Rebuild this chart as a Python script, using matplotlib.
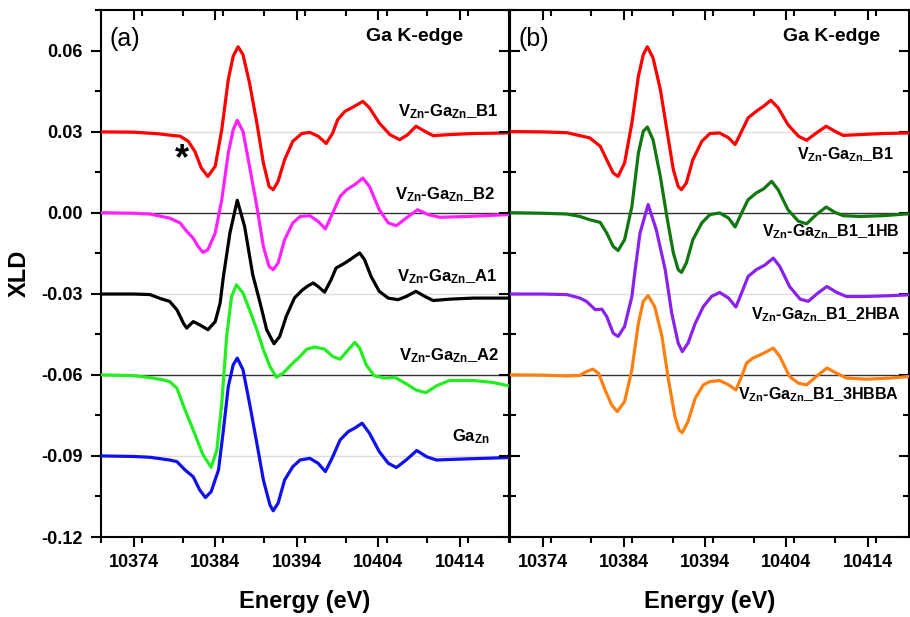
import matplotlib
matplotlib.use("Agg")
import matplotlib.pyplot as plt
from matplotlib.ticker import MultipleLocator, FormatStrFormatter

plt.rcParams['font.family'] = ['Liberation Sans', 'DejaVu Sans']
plt.rcParams['font.weight'] = 'bold'
plt.rcParams['axes.unicode_minus'] = False
plt.rcParams['mathtext.fontset'] = 'custom'
plt.rcParams['mathtext.rm'] = 'Liberation Sans:bold'
plt.rcParams['mathtext.bf'] = 'Liberation Sans:bold'
plt.rcParams['mathtext.default'] = 'bf'

# ---------------- data (panel a) ----------------
e_a_b1 = [10370, 10374, 10377, 10378.4, 10379.7, 10380.7, 10381.5, 10382.3, 10383.1, 10384.0,
          10384.8, 10385.6, 10386.2, 10386.8, 10387.4, 10388.2, 10389.1, 10389.9, 10390.6, 10391.1,
          10391.7, 10392.5, 10393.5, 10394.6, 10395.6, 10396.6, 10397.6, 10398.4, 10399.0, 10399.9,
          10400.9, 10402.1, 10402.9, 10404.1, 10405.4, 10406.6, 10407.6, 10408.6, 10409.7, 10410.7,
          10412.7, 10415.6, 10420]
v_a_b1 = [0.0299, 0.0298, 0.0292, 0.0287, 0.0283, 0.0264, 0.0227, 0.0165, 0.0134, 0.0172,
          0.0307, 0.0493, 0.0579, 0.0614, 0.0585, 0.0480, 0.0332, 0.0184, 0.0097, 0.0085,
          0.0116, 0.0196, 0.0264, 0.0293, 0.0297, 0.0283, 0.0256, 0.0295, 0.0344, 0.0375,
          0.0391, 0.0412, 0.0388, 0.0332, 0.0289, 0.0270, 0.0289, 0.0320, 0.0301, 0.0285,
          0.0289, 0.0293, 0.0295]

e_a_b2 = [10370, 10374, 10376.0, 10378.4, 10379.7, 10380.5, 10381.3, 10381.9, 10382.5, 10383.1,
          10384.0, 10384.8, 10385.6, 10386.2, 10386.7, 10387.4, 10388.2, 10389.1, 10389.9, 10390.6,
          10391.1, 10391.7, 10392.5, 10393.5, 10394.4, 10395.6, 10396.6, 10397.5, 10398.4, 10399.3,
          10400.1, 10401.1, 10402.1, 10402.9, 10404.1, 10405.2, 10406.2, 10407.4, 10408.8, 10410.1,
          10411.5, 10414.8, 10420]
v_a_b2 = [0.0000, -0.0002, -0.0005, -0.0020, -0.0038, -0.0069, -0.0094, -0.0125, -0.0147, -0.0137,
          -0.0075, 0.0048, 0.0221, 0.0307, 0.0342, 0.0301, 0.0172, 0.0023, -0.0125, -0.0199,
          -0.0211, -0.0186, -0.0100, -0.0038, -0.0014, -0.0011, -0.0032, -0.0060, -0.0001, 0.0060,
          0.0085, 0.0104, 0.0128, 0.0097, 0.0011, -0.0038, -0.0048, -0.0020, 0.0011, -0.0007,
          -0.0017, -0.0014, -0.0007]

e_a_a1 = [10370, 10374, 10376.0, 10377.3, 10378.4, 10379.3, 10380.1, 10380.5, 10381.3, 10382.1,
          10383.1, 10384.0, 10384.6, 10385.0, 10385.8, 10386.7, 10387.6, 10388.6, 10389.5, 10390.3,
          10391.2, 10391.9, 10392.7, 10393.7, 10394.6, 10395.3, 10396.0, 10396.6, 10397.4, 10398.2,
          10398.8, 10399.9, 10400.5, 10401.7, 10402.3, 10403.1, 10404.1, 10405.2, 10406.4, 10407.4,
          10408.6, 10409.7, 10410.7, 10412.7, 10415.6, 10420]
v_a_a1 = [-0.0301, -0.0301, -0.0303, -0.0318, -0.0328, -0.0359, -0.0409, -0.0427, -0.0403, -0.0415,
          -0.0433, -0.0403, -0.0334, -0.0236, -0.0075, 0.0046, -0.0051, -0.0230, -0.0334, -0.0433,
          -0.0485, -0.0458, -0.0384, -0.0316, -0.0288, -0.0272, -0.0260, -0.0273, -0.0294, -0.0248,
          -0.0205, -0.0186, -0.0174, -0.0149, -0.0174, -0.0236, -0.0291, -0.0316, -0.0322, -0.0310,
          -0.0291, -0.0310, -0.0325, -0.0320, -0.0316, -0.0316]

e_a_a2 = [10370, 10374, 10376.0, 10377.5, 10378.4, 10379.3, 10380.3, 10381.3, 10382.5, 10383.5,
          10384.2, 10384.8, 10385.4, 10386.0, 10386.6, 10387.4, 10388.2, 10389.1, 10389.9, 10390.7,
          10391.5, 10392.3, 10393.5, 10394.4, 10395.2, 10396.2, 10397.4, 10398.4, 10399.3, 10400.1,
          10401.1, 10401.7, 10402.5, 10403.5, 10404.8, 10406.0, 10407.4, 10408.6, 10409.8, 10411.1,
          10412.7, 10415.6, 10418.0, 10420]
v_a_a2 = [-0.0600, -0.0603, -0.0610, -0.0618, -0.0625, -0.0649, -0.0730, -0.0804, -0.0896, -0.0942,
          -0.0878, -0.0705, -0.0458, -0.0310, -0.0267, -0.0297, -0.0359, -0.0433, -0.0507, -0.0569,
          -0.0609, -0.0594, -0.0557, -0.0532, -0.0505, -0.0497, -0.0505, -0.0532, -0.0542, -0.0514,
          -0.0480, -0.0501, -0.0563, -0.0604, -0.0612, -0.0609, -0.0633, -0.0656, -0.0666, -0.0641,
          -0.0621, -0.0621, -0.0628, -0.0641]

e_a_ga = [10370, 10374, 10376.0, 10378.4, 10379.3, 10380.3, 10381.3, 10382.1, 10382.8, 10383.5,
          10384.4, 10385.0, 10385.6, 10386.2, 10386.7, 10387.4, 10388.2, 10389.1, 10389.9, 10390.7,
          10391.1, 10391.7, 10392.5, 10393.5, 10394.4, 10395.6, 10396.6, 10397.5, 10398.4, 10399.3,
          10400.3, 10401.1, 10402.0, 10402.9, 10404.1, 10405.2, 10406.2, 10407.4, 10408.7, 10409.9,
          10411.1, 10414.8, 10420]
v_a_ga = [-0.0900, -0.0902, -0.0905, -0.0915, -0.0921, -0.0952, -0.0977, -0.1026, -0.1054, -0.1032,
          -0.0952, -0.0804, -0.0643, -0.0563, -0.0538, -0.0581, -0.0705, -0.0853, -0.0989, -0.1081,
          -0.1103, -0.1075, -0.0989, -0.0940, -0.0915, -0.0909, -0.0927, -0.0958, -0.0903, -0.0841,
          -0.0810, -0.0797, -0.0779, -0.0816, -0.0884, -0.0927, -0.0943, -0.0915, -0.0880, -0.0903,
          -0.0915, -0.0911, -0.0906]

# ---------------- data (panel b) ----------------
e_b_b1 = [10370, 10374, 10377.0, 10378.6, 10379.8, 10381.1, 10381.9, 10382.7, 10383.3, 10384.1,
          10385.0, 10385.8, 10386.4, 10386.9, 10387.6, 10388.5, 10389.3, 10390.1, 10390.7, 10391.1,
          10391.7, 10392.5, 10393.6, 10394.6, 10395.8, 10396.9, 10397.7, 10398.5, 10399.3, 10400.3,
          10401.2, 10402.1, 10403.0, 10404.2, 10405.5, 10406.5, 10407.7, 10408.9, 10410.0, 10411.0,
          10413.1, 10415.9, 10419.1]
v_b_b1 = [0.0300, 0.0299, 0.0296, 0.0285, 0.0277, 0.0246, 0.0196, 0.0147, 0.0134, 0.0184,
          0.0332, 0.0505, 0.0585, 0.0614, 0.0573, 0.0456, 0.0307, 0.0159, 0.0097, 0.0085,
          0.0110, 0.0196, 0.0264, 0.0293, 0.0295, 0.0277, 0.0252, 0.0301, 0.0351, 0.0375,
          0.0394, 0.0416, 0.0388, 0.0326, 0.0283, 0.0268, 0.0295, 0.0320, 0.0301, 0.0286,
          0.0289, 0.0293, 0.0295]

e_b_1hb = [10370, 10374, 10377.0, 10378.6, 10379.8, 10381.1, 10381.9, 10382.7, 10383.3, 10384.1,
           10385.0, 10385.8, 10386.4, 10386.9, 10387.6, 10388.5, 10389.3, 10390.1, 10390.7, 10391.1,
           10391.7, 10392.5, 10393.6, 10394.6, 10395.8, 10396.9, 10397.7, 10398.5, 10399.3, 10400.3,
           10401.2, 10402.2, 10403.0, 10404.2, 10405.5, 10406.5, 10407.7, 10408.9, 10410.0, 10411.0,
           10413.1, 10415.9, 10419.1]
v_b_1hb = [0.0000, -0.0002, -0.0005, -0.0014, -0.0026, -0.0036, -0.0075, -0.0125, -0.0140, -0.0100,
           0.0023, 0.0221, 0.0301, 0.0317, 0.0270, 0.0134, -0.0014, -0.0149, -0.0211, -0.0221,
           -0.0186, -0.0100, -0.0038, -0.0007, -0.0001, -0.0020, -0.0053, -0.0001, 0.0048, 0.0073,
           0.0088, 0.0116, 0.0085, 0.0011, -0.0032, -0.0041, -0.0007, 0.0021, 0.0001, -0.0011,
           -0.0014, -0.0011, -0.0004]

e_b_2hba = [10370, 10374, 10377.0, 10378.6, 10379.4, 10380.5, 10381.3, 10381.9, 10382.7, 10383.3,
            10384.1, 10385.0, 10385.4, 10386.0, 10387.0, 10388.0, 10389.1, 10389.9, 10390.7, 10391.2,
            10391.9, 10392.8, 10393.8, 10394.8, 10395.8, 10396.9, 10397.8, 10398.5, 10399.3, 10400.3,
            10401.4, 10402.4, 10403.2, 10404.4, 10405.7, 10406.7, 10407.9, 10409.0, 10410.2, 10411.4,
            10413.9, 10416.8, 10419.1]
v_b_2hba = [-0.0301, -0.0301, -0.0303, -0.0316, -0.0328, -0.0359, -0.0357, -0.0384, -0.0446, -0.0458,
            -0.0421, -0.0310, -0.0211, -0.0075, 0.0030, -0.0063, -0.0211, -0.0372, -0.0483, -0.0514,
            -0.0483, -0.0409, -0.0347, -0.0310, -0.0295, -0.0316, -0.0349, -0.0297, -0.0236, -0.0211,
            -0.0193, -0.0168, -0.0199, -0.0273, -0.0320, -0.0328, -0.0297, -0.0273, -0.0295, -0.0310,
            -0.0310, -0.0307, -0.0304]

e_b_3hbba = [10370, 10374, 10377.0, 10378.6, 10379.4, 10380.2, 10380.9, 10381.7, 10382.5, 10383.2,
             10384.1, 10385.0, 10385.8, 10386.4, 10387.0, 10387.8, 10388.7, 10389.5, 10390.3, 10390.8,
             10391.2, 10391.9, 10392.8, 10393.8, 10394.6, 10395.8, 10396.9, 10397.8, 10398.5, 10399.1,
             10399.9, 10401.2, 10402.4, 10403.2, 10404.4, 10405.5, 10406.5, 10407.7, 10409.0, 10410.2,
             10411.4, 10413.9, 10416.8, 10419.1]
v_b_3hbba = [-0.0600, -0.0601, -0.0604, -0.0602, -0.0588, -0.0579, -0.0594, -0.0656, -0.0711, -0.0736,
             -0.0699, -0.0581, -0.0409, -0.0328, -0.0307, -0.0347, -0.0458, -0.0619, -0.0754, -0.0804,
             -0.0814, -0.0773, -0.0686, -0.0637, -0.0625, -0.0621, -0.0637, -0.0656, -0.0606, -0.0557,
             -0.0538, -0.0520, -0.0501, -0.0532, -0.0606, -0.0631, -0.0637, -0.0606, -0.0575, -0.0594,
             -0.0612, -0.0616, -0.0612, -0.0606]

labels_a = [r'V$_{\mathbf{Zn}}$-Ga$_{\mathbf{Zn}}$_B1', r'V$_{\mathbf{Zn}}$-Ga$_{\mathbf{Zn}}$_B2',
            r'V$_{\mathbf{Zn}}$-Ga$_{\mathbf{Zn}}$_A1', r'V$_{\mathbf{Zn}}$-Ga$_{\mathbf{Zn}}$_A2',
            r'Ga$_{\mathbf{Zn}}$']
labels_b = [r'V$_{\mathbf{Zn}}$-Ga$_{\mathbf{Zn}}$_B1', r'V$_{\mathbf{Zn}}$-Ga$_{\mathbf{Zn}}$_B1_1HB',
            r'V$_{\mathbf{Zn}}$-Ga$_{\mathbf{Zn}}$_B1_2HBA', r'V$_{\mathbf{Zn}}$-Ga$_{\mathbf{Zn}}$_B1_3HBBA']

x_ticks = [10374, 10384, 10394, 10404, 10414]
y_ticks = [0.06, 0.03, 0.00, -0.03, -0.06, -0.09, -0.12]

# ---------------- figure ----------------
fig = plt.figure(figsize=(9.10, 6.17), dpi=100)
ax1 = fig.add_axes([101/910, 1-537/617, 408/910, 527/617])
ax2 = fig.add_axes([510/910, 1-537/617, 399/910, 527/617])

lw = 2.3
cols_a = ['#ff0000', '#ff22ff', '#000000', '#22ee22', '#1010ee']
cols_b = ['#ff0000', '#117711', '#8a22ee', '#ff8010']

# baselines
for ax, gray, dark in [(ax1, [0.03, -0.03, -0.09], [0.0, -0.06]), (ax2, [0.03, -0.03], [0.0, -0.06])]:
    for g in gray:
        ax.axhline(g, color='#dddddd', lw=1.0, zorder=1)
    for d in dark:
        ax.axhline(d, color='#333333', lw=1.0, zorder=1)

series_a = [(e_a_b1, v_a_b1), (e_a_b2, v_a_b2), (e_a_a1, v_a_a1), (e_a_a2, v_a_a2), (e_a_ga, v_a_ga)]
for (e, v), c in zip(series_a, cols_a):
    ax1.plot(e, v, color=c, lw=lw, zorder=3, solid_joinstyle='round', solid_capstyle='round')
series_b = [(e_b_b1, v_b_b1), (e_b_1hb, v_b_1hb), (e_b_2hba, v_b_2hba), (e_b_3hbba, v_b_3hbba)]
for (e, v), c in zip(series_b, cols_b):
    ax2.plot(e, v, color=c, lw=lw, zorder=3, solid_joinstyle='round', solid_capstyle='round')

ax1.set_xlim(10370, 10420)
ax2.set_xlim(10370, 10419.1)
for ax in (ax1, ax2):
    ax.set_ylim(-0.12, 0.075)
    ax.set_xticks(x_ticks)
    ax.xaxis.set_minor_locator(MultipleLocator(5))
    ax.set_yticks(y_ticks)
    ax.yaxis.set_minor_locator(MultipleLocator(0.015))
    ax.yaxis.set_major_formatter(FormatStrFormatter('%.2f'))
    for s in ax.spines.values():
        s.set_linewidth(1.5)
    ax.tick_params(axis='both', which='major', length=7, width=1.5, labelsize=13, pad=5)
    ax.tick_params(axis='both', which='minor', length=4, width=1.5)
    ax.tick_params(axis='x', which='both', direction='out', top=False)
    ax.set_xlabel('Energy (eV)', fontsize=17, fontweight='bold', labelpad=14)

# top ticks inward
for ax in (ax1, ax2):
    tw = ax.twiny()
    tw.set_xlim(ax.get_xlim())
    tw.set_xticks(x_ticks)
    tw.xaxis.set_minor_locator(MultipleLocator(5))
    tw.tick_params(axis='x', which='major', direction='in', length=7, width=1.5, labeltop=False)
    tw.tick_params(axis='x', which='minor', direction='in', length=4, width=1.5)
    for s in tw.spines.values():
        s.set_visible(False)

ax1.tick_params(axis='y', which='both', direction='out', left=True, right=False, pad=6)
ax1.set_ylabel('XLD', fontsize=17, fontweight='bold', labelpad=8)
ty = ax1.twinx()
ty.set_ylim(ax1.get_ylim())
ty.set_yticks(y_ticks)
ty.yaxis.set_minor_locator(MultipleLocator(0.015))
ty.tick_params(axis='y', which='major', direction='in', length=7, width=1.5, labelright=False)
ty.tick_params(axis='y', which='minor', direction='in', length=4, width=1.5)
for s in ty.spines.values():
    s.set_visible(False)

ax2.tick_params(axis='y', which='both', direction='in', left=True, right=True, labelleft=False)

# texts panel a
ax1.text(10371.1, 0.0641, '(a)', fontsize=18, fontweight='normal', va='center', ha='left')
ax1.text(10408.4, 0.0652, 'Ga K-edge', fontsize=14, va='center', ha='center')
ax1.text(10379.9, 0.0195, '*', fontsize=26, va='center', ha='center')
lab_pos_a = [(10418.7, 0.0374), (10418.3, 0.0067), (10418.6, -0.0237), (10418.8, -0.0530), (10417.7, -0.0830)]
for (x, y), t in zip(lab_pos_a, labels_a):
    ax1.text(x, y, t, fontsize=12, va='center', ha='right')

# texts panel b (right-aligned just inside the figure edge)
ax2.text(10409.6, 0.0652, 'Ga K-edge', fontsize=14, va='center', ha='center')
ax2.text(10371.0, 0.0641, '(b)', fontsize=18, fontweight='normal', va='center', ha='left')
lab_pos_b = [(10405.3, 0.0215), (10401.0, -0.0070), (10399.6, -0.0378), (10398.1, -0.0674)]
for (x, y), t in zip(lab_pos_b, labels_b):
    ax2.text(x, y, t, fontsize=11.5, va='center', ha='left', clip_on=False)

fig.savefig('out.png', dpi=100)
